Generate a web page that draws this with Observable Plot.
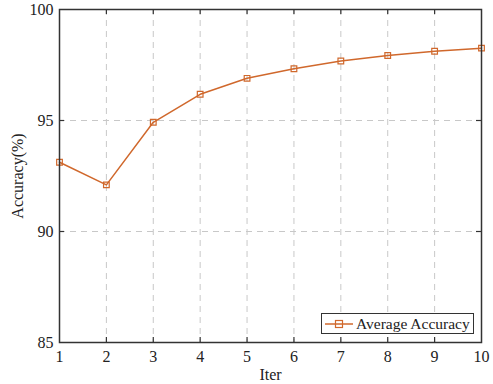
<!DOCTYPE html>
<html>
<head>
<meta charset="utf-8">
<script src="https://cdn.jsdelivr.net/npm/d3@7"></script>
<script src="https://cdn.jsdelivr.net/npm/@observablehq/plot@0.6"></script>
<style>
  html, body { margin: 0; padding: 0; background: #fff; }
  #wrap { position: relative; width: 493px; height: 384px; font-family: "Liberation Serif", "Times New Roman", serif; }
  #legend { position: absolute; box-sizing: border-box; left: 321px; top: 313px; width: 153px; height: 21px; border: 1.5px solid #333; background: #fff; display: flex; align-items: center; font-size: 15.5px; color: #222; white-space: nowrap; }
  #legend svg { margin-left: 2px; margin-right: 2px; flex: none; }
</style>
</head>
<body>
<div id="wrap"></div>
<script>
const iters = [1, 2, 3, 4, 5, 6, 7, 8, 9, 10];
const accuracy = [93.12, 92.1, 94.92, 96.18, 96.9, 97.33, 97.68, 97.93, 98.12, 98.26];
const xTicks = [1, 2, 3, 4, 5, 6, 7, 8, 9, 10];
const yTicks = [85, 90, 95, 100];
const seriesName = "Average Accuracy";
const color = "#d0682c";

const data = iters.map((x, i) => ({iter: x, acc: accuracy[i]}));
const innerGridX = xTicks.slice(1, -1);
const innerGridY = yTicks.slice(1, -1);

const chart = Plot.plot({
  width: 493,
  height: 384,
  marginLeft: 59,
  marginRight: 12,
  marginTop: 9,
  marginBottom: 42,
  style: {fontFamily: "'Liberation Serif', 'Times New Roman', serif", fontSize: "16px", color: "#222", background: "#fff"},
  x: {domain: [1, 10]},
  y: {domain: [85, 100]},
  marks: [
    Plot.gridX(innerGridX, {stroke: "#c8c8c8", strokeOpacity: 1, strokeDasharray: "6,5"}),
    Plot.gridY(innerGridY, {stroke: "#c8c8c8", strokeOpacity: 1, strokeDasharray: "6,5"}),
    Plot.axisX(xTicks, {anchor: "bottom", tickSize: 0, tickPadding: 8, tickFormat: d => String(d), label: "Iter", labelAnchor: "center", labelOffset: 37, labelArrow: "none", fontSize: 16}),
    Plot.axisY(yTicks, {anchor: "left", tickSize: 0, tickPadding: 6, tickFormat: d => String(d), label: "Accuracy(%)", labelAnchor: "center", labelOffset: 48, labelArrow: "none", fontSize: 16}),
    Plot.tickX(innerGridX, {x: d => d, insetTop: 328, stroke: "#333", strokeWidth: 1.2}),
    Plot.tickX(innerGridX, {x: d => d, insetBottom: 328, stroke: "#333", strokeWidth: 1.2}),
    Plot.tickY(innerGridY, {y: d => d, insetRight: 417, stroke: "#333", strokeWidth: 1.2}),
    Plot.tickY(innerGridY, {y: d => d, insetLeft: 417, stroke: "#333", strokeWidth: 1.2}),
    Plot.line(data, {x: "iter", y: "acc", stroke: color, strokeWidth: 1.5}),
    Plot.dot(data, {x: "iter", y: "acc", symbol: "square", r: 3.2, stroke: color, fill: "none", strokeWidth: 1.2}),
    Plot.frame({stroke: "#333", strokeWidth: 1.5})
  ]
});

const wrap = document.getElementById("wrap");
wrap.appendChild(chart);

const legend = document.createElement("div");
legend.id = "legend";
legend.innerHTML = `<svg width="30" height="14"><line x1="1" x2="29" y1="7" y2="7" stroke="${color}" stroke-width="1.5"/><rect x="11.5" y="3.5" width="7" height="7" fill="none" stroke="${color}" stroke-width="1.2"/></svg><span></span>`;
legend.querySelector("span").textContent = seriesName;
wrap.appendChild(legend);
</script>
</body>
</html>
